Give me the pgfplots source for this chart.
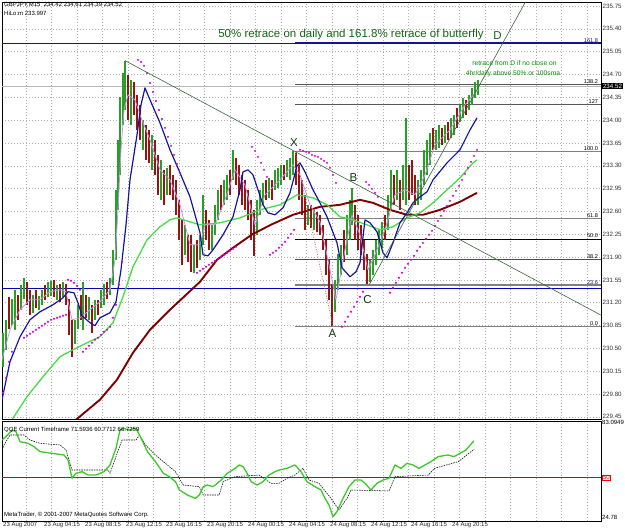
\documentclass[border=0pt]{standalone}
\usepackage{fontspec}
\setmainfont{Liberation Sans}
\usepackage{pgfplots}
\pgfplotsset{compat=1.18}
\usepackage{pgfplotstable}

\definecolor{upc}{RGB}{40,160,40}
\definecolor{dnc}{RGB}{150,20,20}
\definecolor{maone}{RGB}{20,20,160}
\definecolor{matwo}{RGB}{70,220,70}
\definecolor{mathree}{RGB}{128,0,0}
\definecolor{sarc}{RGB}{220,0,220}
\definecolor{vio}{RGB}{205,145,230}
\definecolor{fibc}{RGB}{128,128,128}
\definecolor{navyc}{RGB}{20,20,140}
\definecolor{trendc}{RGB}{60,100,60}
\definecolor{gridc}{RGB}{175,175,175}
\definecolor{txtg}{RGB}{20,100,20}
\definecolor{qqeg}{RGB}{60,200,40}
\definecolor{zzc}{RGB}{190,90,90}

\pgfplotstableread{
x lo hi
3 230.22 230.74
6 230.48 230.94
12 230.86 231.25
15 230.79 231.40
21 231.09 231.48
24 231.25 231.58
33 231.05 231.32
39 231.09 231.31
42 231.17 231.40
48 231.28 231.51
51 231.31 231.54
57 231.25 231.48
63 231.28 231.51
75 230.56 230.94
78 230.79 231.17
83 230.79 231.52
89 230.94 231.28
95 230.94 231.25
101 231.12 231.40
104 231.17 231.48
110 231.32 231.58
113 231.48 232.01
116 231.86 232.93
118 232.62 233.70
120 233.16 234.36
123 233.93 234.72
125 234.16 234.91
131 233.93 234.62
143 233.54 234.00
152 233.24 233.77
161 232.78 233.39
167 232.85 233.27
185 231.93 232.39
194 231.66 232.09
200 231.86 232.24
203 232.09 232.85
212 232.01 232.39
215 232.24 232.70
218 232.47 232.93
224 232.70 233.08
227 232.78 233.16
233 233.08 233.54
257 232.24 232.78
260 232.55 232.93
263 232.70 233.04
269 232.81 233.12
275 232.93 233.24
278 232.96 233.27
281 233.01 233.31
287 233.12 233.39
290 233.08 233.42
293 233.16 233.52
308 232.39 232.70
314 232.32 232.62
335 231.06 231.55
338 231.40 231.94
341 231.63 232.09
347 231.93 232.55
350 232.16 232.78
352 232.39 232.96
370 231.51 231.86
373 231.63 232.01
376 231.78 232.16
379 231.94 232.32
382 232.04 232.44
388 232.32 232.85
391 232.62 233.24
397 232.78 233.24
403 232.78 233.31
406 232.70 234.03
418 232.70 233.08
421 232.78 233.24
424 233.01 233.54
427 233.16 233.70
430 233.31 233.80
436 233.54 233.85
439 233.57 233.93
445 233.65 233.93
451 233.73 234.03
454 233.77 234.08
460 233.97 234.23
463 234.03 234.34
469 234.16 234.39
472 234.23 234.49
475 234.34 234.59
478 234.39 234.61
}\upbars

\pgfplotstableread{
x lo hi
9 230.79 231.29
18 230.94 231.32
27 231.17 231.51
30 231.02 231.40
36 231.12 231.40
45 231.25 231.48
54 231.28 231.55
60 231.21 231.48
66 231.17 231.48
69 230.71 231.25
72 230.37 230.94
81 230.94 231.32
86 230.97 231.32
92 230.74 231.17
98 231.02 231.25
107 231.25 231.51
128 234.00 234.69
134 234.08 234.59
137 233.85 234.39
140 233.70 234.23
146 233.39 233.93
149 233.34 233.85
155 233.16 233.70
158 232.85 233.47
164 232.70 233.24
170 232.85 233.31
173 232.78 233.16
176 232.55 233.08
179 232.16 232.78
182 231.78 232.47
188 231.83 232.24
191 231.67 232.24
197 231.74 232.16
206 232.16 232.62
209 232.01 232.47
221 232.62 233.01
230 232.85 233.24
236 233.01 233.42
239 232.85 233.31
242 232.70 233.16
245 232.62 233.08
248 232.47 232.93
251 232.16 232.78
254 231.92 232.62
266 232.78 233.08
272 232.78 233.08
284 233.08 233.31
296 233.01 233.50
299 232.78 233.31
302 232.55 233.08
305 232.32 232.85
311 232.35 232.70
317 232.29 232.59
320 232.24 232.55
323 232.01 232.39
326 231.63 232.16
329 231.25 231.86
332 230.84 231.48
344 231.83 232.32
355 232.16 232.70
358 232.01 232.55
361 231.93 232.39
364 231.70 232.16
367 231.48 231.94
385 232.16 232.55
394 232.70 233.16
400 232.62 233.08
409 232.78 233.31
412 232.85 233.39
415 232.70 233.16
433 233.54 233.88
442 233.62 233.88
448 233.70 233.97
457 233.88 234.19
466 234.08 234.31
}\dnbars

\begin{document}
\begin{tikzpicture}
\useasboundingbox (0,0) rectangle (625pt,532pt);

% ---------------- main price panel ----------------
\begin{axis}[
  at={(2pt,113pt)}, anchor=south west,
  width=599pt, height=417pt, scale only axis,
  xmin=2, xmax=601, ymin=229.417, ymax=235.811,
  clip mode=individual,
  axis line style={line width=0.6pt},
  xtick={26,51.5,...,600}, xticklabels={},
  ytick={229.45,229.80,230.15,230.50,230.85,231.20,231.55,231.90,232.25,232.60,232.95,233.30,233.65,234.00,234.35,234.70,235.05,235.40,235.75},
  yticklabels={229.45,229.80,230.15,230.50,230.85,231.20,231.55,231.90,232.25,232.60,232.95,233.30,233.65,234.00,234.35,234.70,235.05,235.40,235.75},
  yticklabel pos=right,
  yticklabel style={anchor=west, inner sep=1.5pt},
  major tick length=0pt,
  grid=major,
  major grid style={gridc, line width=0.5pt, dash pattern=on 1pt off 2pt},
  tick label style={font=\fontsize{6.2}{7}\selectfont, text=black!80},
]
% horizontal reference lines
\addplot[gray!55, line width=0.6pt] coordinates {(2,234.52) (601,234.52)};
\addplot[navyc, line width=1pt] coordinates {(2,235.179) (601,235.179)};
\addplot[navyc, line width=1.9pt] coordinates {(295,235.179) (601,235.179)};
\addplot[blue!70!black, line width=1.1pt] coordinates {(2,231.42) (601,231.42)};
% fibonacci levels
\addplot[fibc, line width=1.5pt] coordinates {(295,230.836) (601,230.836)};
\addplot[fibc, line width=1.5pt] coordinates {(295,231.470) (601,231.470)};
\addplot[black!70, line width=0.9pt] coordinates {(295,231.861) (601,231.861)};
\addplot[black, line width=0.8pt] coordinates {(295,232.178) (601,232.178)};
\addplot[fibc, line width=1.5pt] coordinates {(295,232.495) (601,232.495)};
\addplot[fibc, line width=1.5pt] coordinates {(295,233.520) (601,233.520)};
\addplot[black!65, line width=1.2pt] coordinates {(295,234.245) (601,234.245)};
\addplot[black!65, line width=1.2pt] coordinates {(295,234.545) (601,234.545)};

% price bars
\addplot[draw=none, mark=none, forget plot,
  error bars/.cd, y dir=both, y explicit, error mark=none,
  error bar style={draw=upc, line width=1.1pt, solid}]
  table[x=x, y expr={(\thisrow{lo}+\thisrow{hi})/2}, y error expr={(\thisrow{hi}-\thisrow{lo})/2}] {\upbars};
\addplot[draw=none, mark=none, forget plot,
  error bars/.cd, y dir=both, y explicit, error mark=none,
  error bar style={draw=dnc, line width=1.1pt, solid}]
  table[x=x, y expr={(\thisrow{lo}+\thisrow{hi})/2}, y error expr={(\thisrow{hi}-\thisrow{lo})/2}] {\dnbars};

% moving averages
\addplot[mathree, line width=1.9pt, line join=round] coordinates {
(76,229.406) (100,229.713) (117,230.02) (133,230.433) (150,230.785) (170,231.092) (200,231.521) (217,231.858) (233,232.042) (253,232.256) (273,232.41) (293,232.548) (320,232.67) (340,232.701) (360,232.777) (373,232.731) (390,232.624) (407,232.548) (423,232.548) (440,232.624) (460,232.747) (477,232.885)};
\addplot[matwo, line width=1.3pt, line join=round] coordinates {
(12,229.406) (27,229.759) (43,230.065) (60,230.372) (73,230.479) (87,230.586) (100,230.678) (113,230.893) (123,231.291) (133,231.751) (147,232.164) (160,232.364) (170,232.471) (177,232.501) (190,232.44) (200,232.394) (220,232.425) (240,232.501) (260,232.624) (280,232.701) (297,232.854) (313,232.808) (327,232.701) (340,232.517) (353,232.471) (367,232.394) (380,232.318) (393,232.364) (407,232.501) (420,232.578) (433,232.731) (447,232.931) (460,233.115) (473,233.344) (477,233.39)};
\addplot[vio, line width=0.8pt, line join=round] coordinates {
(2,230.326) (10,230.785) (20,231.092) (30,231.245) (40,231.245) (50,231.368) (60,231.398) (66,231.368) (72,230.939) (80,230.969) (90,231.092) (100,231.214) (110,231.398) (115,231.858) (118,232.624) (121,233.544) (124,234.156) (128,234.386) (135,234.31) (140,234.08) (150,233.697) (160,233.237) (170,233.084) (180,232.701) (190,232.088) (200,232.088) (205,232.394) (215,232.394) (225,232.777) (235,233.237) (245,233.007) (255,232.394) (265,232.854) (280,233.084) (293,233.314) (300,233.16) (310,232.701) (320,232.44) (330,231.705) (336,231.245) (345,232.011) (352,232.548) (360,232.241) (368,231.705) (375,231.935) (385,232.318) (395,232.854) (405,232.931) (415,232.854) (425,233.16) (435,233.62) (450,233.85) (465,234.233) (478,234.463)};
\addplot[maone, line width=1.2pt, line join=round] coordinates {
(2,229.713) (10,230.295) (20,230.678) (30,230.939) (40,231.061) (53,231.168) (63,231.276) (68,231.368) (74,231.352) (78,231.199) (82,231.0) (90,230.893) (95,230.847) (100,230.969) (110,231.046) (116,231.214) (121,231.705) (126,232.394) (130,233.084) (137,233.773) (141,234.233) (145,234.494) (150,234.31) (160,233.957) (170,233.544) (180,233.191) (190,232.823) (200,232.272) (203,231.935) (208,231.919) (213,232.011) (223,232.241) (233,232.517) (240,232.931) (243,233.206) (248,233.237) (253,233.16) (258,232.931) (263,232.701) (268,232.578) (275,232.548) (283,232.655) (290,232.885) (297,233.298) (300,233.344) (305,233.206) (313,232.931) (320,232.731) (327,232.517) (337,232.118) (342,231.735) (350,231.598) (356,231.674) (360,231.812) (365,232.471) (370,232.425) (377,232.287) (383,231.965) (387,231.889) (393,232.118) (400,232.425) (407,232.578) (413,232.731) (420,232.823) (427,232.9) (433,233.084) (447,233.344) (460,233.544) (470,233.85) (477,234.034)};

% parabolic SAR
\addplot[only marks, mark=*, mark size=0.8pt, sarc, mark options={draw=sarc, fill=sarc}] coordinates {
(3,229.820) (6,230.05) (9,230.295) (12,230.448)
(24,230.663) (27,230.693) (30,230.724) (33,230.755) (36,230.785) (39,230.816) (42,230.847) (45,230.877) (48,230.908) (51,230.939) (54,230.954) (57,230.969) (60,230.985) (63,231.0) (66,231.015)
(68,231.552) (71,231.536) (74,231.506) (77,231.46) (80,231.398)
(83,230.448) (86,230.494) (89,230.54) (92,230.586) (95,230.632) (98,230.663) (101,230.709) (104,230.755) (107,230.785) (110,230.831) (113,230.969) (116,231.168) (119,231.475) (122,231.827)
(138,234.923) (141,234.892) (144,234.831) (147,234.723) (150,234.57) (153,234.432) (156,234.294) (159,234.156) (162,234.018) (165,233.881) (168,233.743) (171,233.605) (174,233.467) (177,233.329) (180,233.191)
(197,231.659) (200,231.689) (203,231.72) (206,231.751) (209,231.781) (212,231.812) (215,231.843) (218,231.873) (221,231.904) (224,231.935) (227,231.965) (230,231.996) (233,232.027) (236,232.057)
(252,233.59) (255,233.528) (258,233.436) (261,233.344) (264,233.237) (267,233.13)
(270,231.935) (273,231.965) (276,231.996) (279,232.042) (282,232.088) (285,232.134) (288,232.195) (291,232.256) (294,232.318)
(300,233.544) (303,233.528) (306,233.513) (309,233.498) (312,233.467) (315,233.452) (318,233.436) (321,233.406) (324,233.375) (327,233.344) (330,233.268) (333,233.16) (336,233.038)
(342,230.831) (345,230.908) (348,230.985) (351,231.061) (354,231.138) (357,231.214) (360,231.291) (363,231.368)
(366,233.053) (369,233.007) (372,232.946) (375,232.885) (378,232.823)
(390,231.352) (393,231.429) (396,231.506) (399,231.582) (402,231.659) (405,231.735) (408,231.797) (411,231.858) (414,231.919) (417,231.996) (420,232.057) (423,232.118) (426,232.18) (429,232.241) (432,232.302) (435,232.379) (438,232.455) (441,232.532) (444,232.609) (447,232.685) (450,232.762) (453,232.839) (456,232.915) (459,232.992) (462,233.084) (465,233.176) (468,233.268) (471,233.36) (474,233.452) (477,233.544)};

% trend lines and pattern
\addplot[trendc, line width=0.6pt] coordinates {(125,234.912) (601,231.009)};
\addplot[trendc, line width=0.6pt] coordinates {(369.4,231.48) (525.4,235.81)};
\addplot[zzc, line width=0.7pt, dash pattern=on 1pt off 1.5pt] coordinates {(295,233.52) (333,230.84)};

% fib labels
\begin{scope}[font=\fontsize{5.6}{6}\selectfont]
\node[anchor=south east, inner sep=0.8pt, text=navyc] at (axis cs:599,235.179) {161.8};
\node[anchor=south east, inner sep=0.8pt] at (axis cs:599,234.545) {138.2};
\node[anchor=south east, inner sep=0.8pt] at (axis cs:599,234.245) {127};
\node[anchor=south east, inner sep=0.8pt] at (axis cs:599,233.520) {100.0};
\node[anchor=south east, inner sep=0.8pt] at (axis cs:599,232.495) {61.8};
\node[anchor=south east, inner sep=0.8pt] at (axis cs:599,232.178) {50.0};
\node[anchor=south east, inner sep=0.8pt] at (axis cs:599,231.861) {38.2};
\node[anchor=south east, inner sep=0.8pt, text=navyc] at (axis cs:599,231.47) {23.6};
\node[anchor=south east, inner sep=0.8pt] at (axis cs:599,230.836) {0.0};
\end{scope}

% bid price box
\node[anchor=west, fill=black, text=white, inner sep=0.8pt, font=\fontsize{6.2}{7}\selectfont] at (axis cs:602,234.52) {234.52};

% texts
\node[anchor=west, font=\fontsize{6}{7}\selectfont, inner sep=0pt] at (axis cs:4,235.765) {GBPJPY,M15\ \ 234.42 234.61 234.39 234.52};
\node[anchor=west, font=\fontsize{6}{7}\selectfont, inner sep=0pt] at (axis cs:4,235.643) {HiLo:m 233.997};
\node[font=\fontsize{11.5}{13}\selectfont, text=txtg, inner sep=0pt] at (axis cs:351,235.306) {50\% retrace on daily and 161.8\% retrace of butterfly};
\node[font=\fontsize{11.5}{13}\selectfont, text=txtg, inner sep=0pt] at (axis cs:497.5,235.29) {D};
\node[font=\fontsize{11.5}{13}\selectfont, text=txtg!60!black, inner sep=0pt] at (axis cs:294,233.651) {X};
\node[font=\fontsize{11.5}{13}\selectfont, text=txtg!60!black, inner sep=0pt] at (axis cs:353.5,233.122) {B};
\node[font=\fontsize{11.5}{13}\selectfont, text=txtg!60!black, inner sep=0pt] at (axis cs:332.5,230.724) {A};
\node[font=\fontsize{11.5}{13}\selectfont, text=txtg!60!black, inner sep=0pt] at (axis cs:367.5,231.253) {C};
\node[font=\fontsize{6.7}{8}\selectfont, text=green!55!black, inner sep=0pt] at (axis cs:514.5,234.869) {retrace from D if no close on};
\node[font=\fontsize{6.7}{8}\selectfont, text=green!55!black, inner sep=0pt] at (axis cs:513,234.716) {4hr/daily above 50\% or 100sma};
\end{axis}

% ---------------- QQE panel ----------------
\begin{axis}[
  at={(2pt,11pt)}, anchor=south west,
  width=599pt, height=100pt, scale only axis,
  xmin=2, xmax=601, ymin=24.78, ymax=83.0949,
  clip mode=individual,
  axis line style={line width=0.6pt},
  ytick=\empty,
  xtick={26,51.5,...,600}, xticklabels={},
  major tick length=0pt,
  grid=major,
  major grid style={gridc, line width=0.5pt, dash pattern=on 1pt off 2pt},
  extra x ticks={2,43,84,125,165,206,247,288,329,370,410,451},
  extra x tick labels={23 Aug 2007,23 Aug 04:15,23 Aug 08:15,23 Aug 12:15,23 Aug 16:15,23 Aug 20:15,24 Aug 00:15,24 Aug 04:15,24 Aug 08:15,24 Aug 12:15,24 Aug 16:15,24 Aug 20:15},
  extra x tick style={grid=none, xticklabel style={anchor=north west, inner sep=1pt, font=\fontsize{6}{7}\selectfont, text=black!85}},
]
\addplot[red!85!black, line width=0.8pt] coordinates {(2,50) (601,50)};
\addplot[black, line width=0.55pt, dash pattern=on 1.5pt off 1pt] coordinates {
(2,66.18) (4,69.10) (10,74.93) (24,74.93) (30,72.02) (40,70.07) (60,69.10) (66,66.18) (72,54.52) (108,54.52) (110,52.58) (122,72.02) (136,72.02) (139.5,74.93) (145.5,69.10) (155.4,63.27) (167.4,57.44) (175.4,53.54) (183.3,45.77) (199.3,44.80) (203.3,39.94) (219.2,39.94) (223.2,47.72) (235.2,50.63) (259.1,51.60) (271,46.75) (279,46.75) (287,49.66) (295,51.60) (303,55.49) (309,48.69) (319,46.75) (331,38.00) (339,31.19) (347,38.00) (351,42.86) (389,42.28) (395,50.63) (428.5,51.60) (434.4,55.49) (458.3,59.38) (474.3,66.73)};
\addplot[qqeg, line width=1.3pt, line join=round] coordinates {
(2,72.02) (6,73.96) (12,77.85) (16,76.87) (20,71.04) (28,70.07) (34,68.13) (40,65.21) (52,64.24) (64,63.27) (68,60.35) (72,49.66) (76,52.58) (82,53.54) (88,51.60) (96,51.60) (104,53.54) (110,57.44) (116,67.16) (120,77.85) (124,78.82) (128,77.85) (136,78.82) (139.5,74.93) (147.5,65.21) (155.4,59.38) (163.4,52.58) (169.4,50.63) (175.4,47.72) (179.4,42.86) (187.3,39.94) (195.3,38.00) (199.3,39.94) (203.3,44.80) (207.3,45.77) (213.2,44.80) (221.2,48.69) (227.2,52.58) (235.2,55.49) (239.1,57.44) (243.1,56.47) (247.1,52.58) (251.1,47.72) (257.1,45.77) (263.1,47.72) (269,51.60) (275,53.54) (279,54.52) (287,55.49) (295,57.44) (301,53.54) (307,47.72) (315,44.80) (321,42.86) (325,38.00) (329,34.11) (333,27.31) (337,30.22) (343,38.00) (349,44.80) (355,48.69) (361,48.69) (365,46.75) (371,42.86) (377,46.75) (383,48.69) (389,49.66) (395,57.44) (401,55.49) (407,58.41) (413,57.44) (419,55.49) (425,57.44) (431,59.38) (438,62.30) (448,63.27) (454,62.30) (460,64.24) (466,66.18) (474,71.59)};
\node[anchor=west, font=\fontsize{6}{7}\selectfont, inner sep=0pt] at (axis cs:4,77.85) {QQE Current Timeframe 71.5936 60.7712 66.7259};
\node[anchor=west, font=\fontsize{6}{7}\selectfont, inner sep=0pt] at (axis cs:4,28.3) {MetaTrader, © 2001-2007 MetaQuotes Software Corp.};
\node[anchor=west, font=\fontsize{6}{7}\selectfont, inner sep=1pt] at (axis cs:601,82.0) {83.0949};
\node[anchor=west, font=\fontsize{6}{7}\selectfont, inner sep=1pt] at (axis cs:601,27.1) {24.78};
\node[anchor=west, font=\fontsize{6}{7}\selectfont, inner sep=0.8pt, draw=red, text=red, line width=0.5pt] at (axis cs:602,50) {50};
\end{axis}
\end{tikzpicture}
\end{document}
